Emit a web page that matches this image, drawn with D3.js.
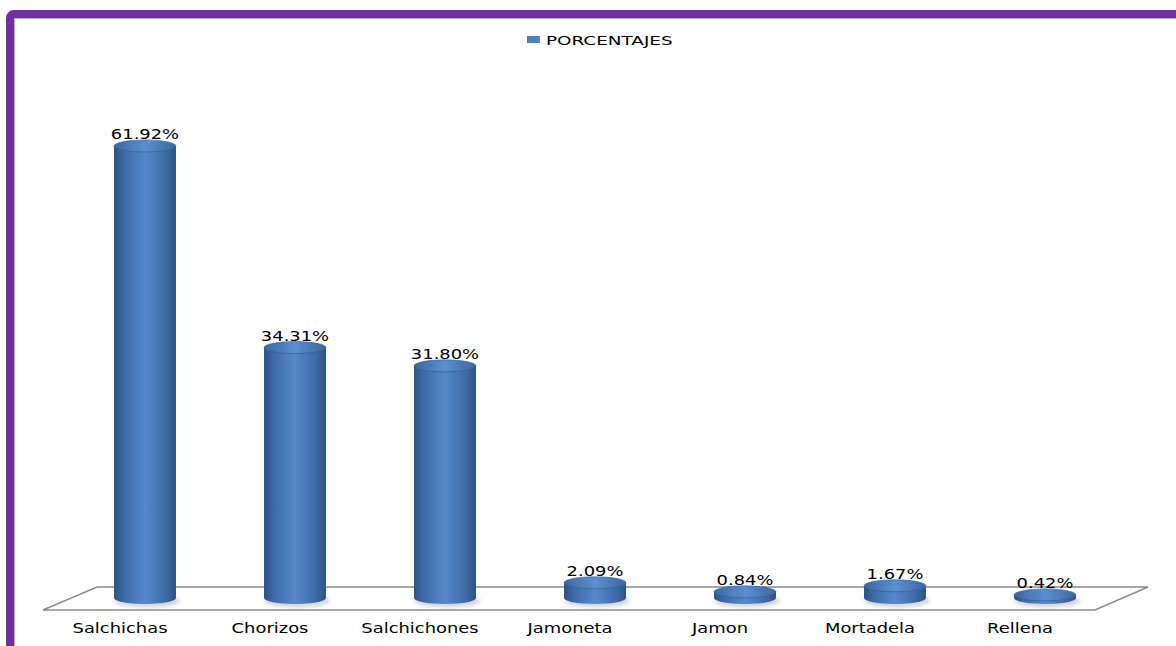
<!DOCTYPE html>
<html><head><meta charset="utf-8">
<script src="https://cdn.jsdelivr.net/npm/d3@7"></script>
<style>body{margin:0;background:#fff}svg{display:block}</style>
</head><body>
<svg id="c" width="1176" height="646"></svg>
<script>
const categories = ["Salchichas","Chorizos","Salchichones","Jamoneta","Jamon","Mortadela","Rellena"];
const values = [61.92, 34.31, 31.80, 2.09, 0.84, 1.67, 0.42];
const valueLabels = ["61.92%","34.31%","31.80%","2.09%","0.84%","1.67%","0.42%"];
const seriesName = "PORCENTAJES";

const svg = d3.select("#c");
const defs = svg.append("defs");
const g1 = defs.append("linearGradient").attr("id","cyl").attr("x1","0").attr("x2","1").attr("y1","0").attr("y2","0");
[[0,"#2b5282"],[0.15,"#3d6aa6"],[0.5,"#5588cc"],[0.85,"#3d6aa6"],[1,"#2b5282"]].forEach(s=>g1.append("stop").attr("offset",s[0]).attr("stop-color",s[1]));
const g2 = defs.append("linearGradient").attr("id","topg").attr("x1","0").attr("x2","1").attr("y1","0").attr("y2","0");
[[0,"#3b679e"],[0.5,"#5b8fd0"],[1,"#3b679e"]].forEach(s=>g2.append("stop").attr("offset",s[0]).attr("stop-color",s[1]));
const sh = defs.append("filter").attr("id","blur").attr("x","-20%").attr("y","-50%").attr("width","140%").attr("height","200%");
sh.append("feGaussianBlur").attr("stdDeviation",2);

// purple frame
svg.append("rect").attr("x",10).attr("y",14).attr("width",1200).attr("height",700).attr("rx",4)
  .attr("fill","none").attr("stroke","#7030a0").attr("stroke-width",8);
svg.append("rect").attr("x",14.5).attr("y",18.5).attr("width",1200).attr("height",700)
  .attr("fill","none").attr("stroke","#b8b0c4").attr("stroke-width",1);

const x = d3.scaleBand().domain(categories).range([70,1120]);
const y = d3.scaleLinear().domain([0,70]).range([598,87]);
const bw = x.bandwidth()*0.413, rx = bw/2, ry = 6;
const y0 = y(0);

// floor
const floor = [[x.range()[0]+27, y0-11],[x.range()[1]+28, y0-11],[x.range()[1]-25, y0+12],[x.range()[0]-27, y0+12]];
svg.append("path").attr("d","M"+floor.map(p=>p.join(",")).join("L")+"Z")
  .attr("fill","#fff").attr("stroke","#8c8c8c").attr("stroke-width",1.5);

const bars = svg.append("g").selectAll("g").data(categories).join("g");
bars.each(function(c,i){
  const g = d3.select(this);
  const cx = x(c)+x.bandwidth()/2, top = y(values[i]);
  g.append("ellipse").attr("cx",cx+2).attr("cy",y0+3).attr("rx",rx+2).attr("ry",ry).attr("fill","#9aa5b5").attr("opacity",0.5).attr("filter","url(#blur)");
  g.append("path").attr("d",`M${cx-rx},${top} L${cx-rx},${y0} A${rx},${ry} 0 0 0 ${cx+rx},${y0} L${cx+rx},${top} Z`)
    .attr("fill","url(#cyl)");
  g.append("ellipse").attr("cx",cx).attr("cy",top).attr("rx",rx).attr("ry",ry).attr("fill","url(#topg)").attr("stroke","#2f5b90").attr("stroke-width",0.6);
  g.append("text").attr("transform",`translate(${cx},${top-ry-1}) scale(1.28,1)`)
    .attr("text-anchor","middle").attr("font-family","DejaVu Sans").attr("font-size",14).attr("fill","#000").text(valueLabels[i]);
  g.append("text").attr("transform",`translate(${cx-25},633) scale(1.28,1)`)
    .attr("text-anchor","middle").attr("font-family","DejaVu Sans").attr("font-size",14).attr("fill","#000").text(c);
});

// legend
svg.append("rect").attr("x",527).attr("y",36).attr("width",13).attr("height",7).attr("fill","#4f81bd");
svg.append("text").attr("transform","translate(546,45) scale(1.47,1)").attr("font-family","DejaVu Sans")
  .attr("font-size",12.5).attr("fill","#000").text(seriesName);
</script>
</body></html>
